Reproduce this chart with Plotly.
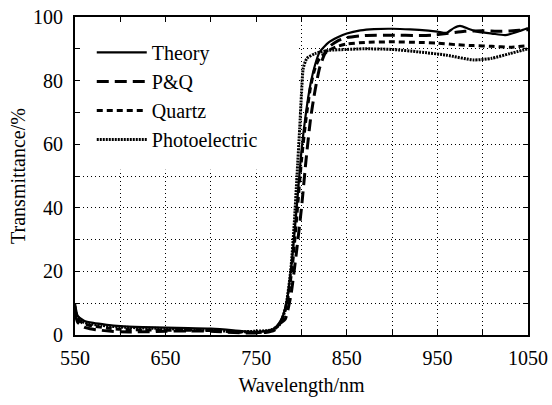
import plotly.graph_objects as go

theory_w = [550,553,560,570,585,600,625,650,675,700,725,745,760,770,778,784,790,795,800,805,810,815,820,830,840,850,865,880,900,920,940,950,960,968,975,985,995,1010,1025,1040,1050]
theory_t = [10,6,4.5,3.8,3.2,2.8,2.5,2.3,2.2,2,1.5,1,1.2,2,5,11,25,41,58,70,79,85,89,92,93.6,94.8,95.8,96.2,96.3,96.1,95.7,95.4,95,96.5,97.2,96.2,95.3,94.8,94.3,95.5,96.5]

pq_w = [550,553,560,570,585,600,625,650,675,700,725,745,760,770,776,782,788,794,800,805,810,815,820,825,830,840,850,870,900,930,945,960,980,1000,1020,1040,1050]
pq_t = [7,4,2.5,1.8,1.3,1,1,1.2,1.3,1.2,0.8,0.6,0.8,1.5,3.5,5,12,25,40,55,68,77,84,88,90.5,92.5,93.5,94.2,94.3,94.2,94.3,94.8,95.5,95.7,95.5,95.8,96]

quartz_w = [550,553,560,570,585,600,625,650,675,700,725,745,760,770,778,784,790,795,800,805,810,815,820,830,840,850,870,900,930,950,970,990,1010,1030,1050]
quartz_t = [8,5,3.5,2.8,2.2,1.8,1.6,1.5,1.5,1.4,1,0.8,1,1.8,4.5,10,22,38,55,68,78,84,87,89.5,90.8,91.5,92,92.2,92,91.8,91.3,91,90.8,90.5,91]

photo_w = [550,552,560,580,600,650,700,730,750,765,775,782,788,792,795,798,800,802,806,815,830,850,870,900,930,960,990,1010,1030,1050]
photo_t = [9,6,4,3,2.5,2,1.5,1,1.2,1.5,3,8,20,35,50,65,76,84,87,88.5,89.5,89.8,90,89.8,89,88,86.5,87,88.5,90]

series = [
    ("Theory", theory_w, theory_t, "solid", 2.2),
    ("P&Q", pq_w, pq_t, "12px,6px", 3),
    ("Quartz", quartz_w, quartz_t, "6px,4px", 3),
    ("Photoelectric", photo_w, photo_t, "2px,1px", 3),
]

FONT = "Liberation Serif, Times New Roman, serif"
FS = 20

fig = go.Figure()
for name, w, t, dash, lw in series:
    fig.add_trace(go.Scatter(x=w, y=t, mode="lines", name=name,
                             line=dict(color="black", width=lw, dash=dash, shape="spline", smoothing=0.6)))

fig.add_shape(type="rect", xref="x", yref="y", x0=550, x1=795, y0=52, y1=100,
              fillcolor="white", line=dict(width=0), layer="between")

GD = "1px,3px"
axis_common = dict(
    showline=True, linecolor="black", linewidth=2, mirror="ticks",
    ticks="inside", ticklen=5, tickcolor="black", tickwidth=1,
    showgrid=True, gridcolor="black", griddash=GD, gridwidth=1,
    zeroline=False, tickfont=dict(family=FONT, size=FS, color="black"),
    automargin=False, ticklabeloverflow="allow",
)

fig.update_xaxes(range=[550, 1050], tick0=550, dtick=100,
                 minor=dict(dtick=50, ticks="inside", ticklen=5, tickcolor="black",
                            showgrid=True, gridcolor="black", griddash=GD, gridwidth=1),
                 title=dict(text="Wavelength/nm", font=dict(family=FONT, size=FS, color="black"), standoff=10),
                 ticklabelstandoff=4, **axis_common)
fig.update_yaxes(range=[0, 100], tick0=0, dtick=20,
                 minor=dict(dtick=10, ticks="inside", ticklen=5, tickcolor="black",
                            showgrid=True, gridcolor="black", griddash=GD, gridwidth=1),
                 title=dict(text="Transmittance/%", font=dict(family=FONT, size=FS, color="black"), standoff=2),
                 ticklabelstandoff=6, **axis_common)

fig.update_layout(
    width=552, height=405,
    margin=dict(l=75, r=24, t=17, b=70),
    paper_bgcolor="white", plot_bgcolor="white",
    showlegend=True,
    legend=dict(x=0.037, y=0.95, xanchor="left", yanchor="top", bgcolor="rgba(0,0,0,0)",
                font=dict(family=FONT, size=FS, color="black"), itemwidth=50,
                tracegroupgap=0),
)

# remove the default page margin so the 552x405 figure fills the window exactly
fig.write_html("out.html", config={"displayModeBar": False},
               post_script="document.body.style.margin='0';document.body.style.overflow='hidden';")
